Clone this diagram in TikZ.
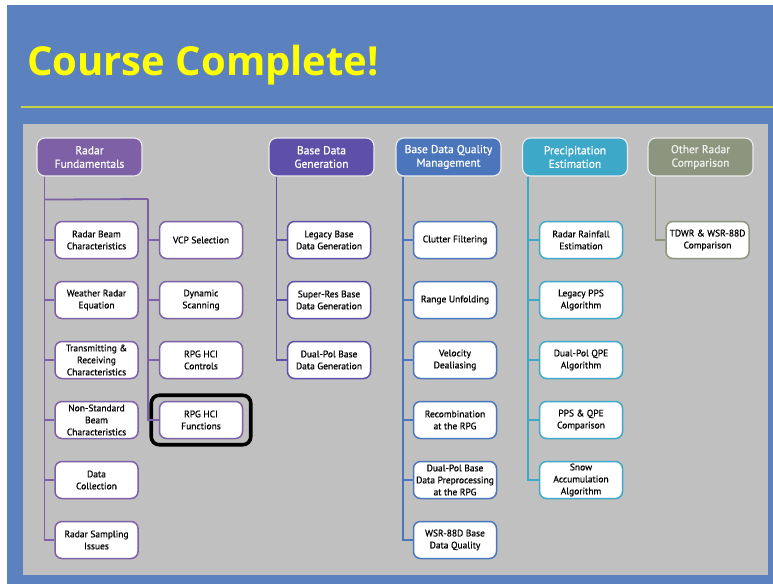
\documentclass[tikz,border=0pt]{standalone}
\usepackage{fontspec}
\setmainfont{PT Sans}[FakeBold=0.6]
\newfontfamily\titlefont{Open Sans}
\usetikzlibrary{fit,calc}
\definecolor{bgblue}{RGB}{91,130,190}
\definecolor{panel}{RGB}{192,192,192}
\definecolor{ttl}{RGB}{255,255,0}
\definecolor{rule}{RGB}{196,210,70}
\definecolor{cRF}{RGB}{126,96,166}
\definecolor{cBDG}{RGB}{94,80,168}
\definecolor{cBDQ}{RGB}{76,118,188}
\definecolor{cPE}{RGB}{62,168,200}
\definecolor{cOR}{RGB}{140,150,126}
\tikzset{
  hdr/.style={rounded corners=8pt, minimum width=105pt, minimum height=38pt, draw=white!85!gray, line width=1.1pt, text=white, align=center, inner sep=1pt, font=\fontsize{11.5}{13.5}\selectfont},
  tbox/.style={rounded corners=7pt, minimum width=83pt, minimum height=37pt, fill=white, line width=1.5pt, align=center, inner sep=1pt, text=black, font=\fontsize{9.5}{12}\selectfont},
  lnk/.style={line width=1.8pt},
}
\begin{document}
\begin{tikzpicture}[x=1pt,y=-1pt]
\useasboundingbox (0,0) rectangle (773,584);
\fill[white] (0,0) rectangle (773,584);
\fill[bgblue] (7,5) rectangle (773,584);
\fill[panel] (23,124) rectangle (768,575);
\draw[rule, line width=1.2pt] (21,107) -- (773,107);
\node[anchor=base west, inner sep=0pt, text=ttl, font=\titlefont\bfseries\fontsize{40}{44}\selectfont] (title) at (27,75) {Course Complete!};

% headers
\node[hdr, fill=cRF] (rf) at (89.5,157) {Radar\\Fundamentals};
\node[hdr, fill=cBDG] (bdg) at (321.5,157) {Base Data\\Generation};
\node[hdr, fill=cBDQ] (bdq) at (448.5,157) {Base Data Quality\\Management};
\node[hdr, fill=cPE] (pe) at (575,157) {Precipitation\\Estimation};
\node[hdr, fill=cOR, text=white!88!gray] (orc) at (700.5,157) {Other Radar\\Comparison};

% column 1
\begin{scope}[every node/.style={tbox, draw=cRF}]
\node (rb) at (96.5,240) {Radar Beam\\Characteristics};
\node (wre) at (96.5,300) {Weather Radar\\Equation};
\node (trc) at (96.5,360) {Transmitting \&\\Receiving\\Characteristics};
\node (nsb) at (96.5,420) {Non-Standard\\Beam\\Characteristics};
\node (dc) at (96.5,480) {Data\\Collection};
\node (rsi) at (96.5,540) {Radar Sampling\\Issues};
\node (vcp) at (201,240) {VCP Selection};
\node (ds) at (201,300) {Dynamic\\Scanning};
\node (rhc) at (201,360) {RPG HCI\\Controls};
\node (rhf) at (201,420) {RPG HCI\\Functions};
\end{scope}
\begin{scope}[every node/.style={tbox, draw=cBDG}]
\node (lb) at (329,240) {Legacy Base\\Data Generation};
\node (sr) at (329,300) {Super-Res Base\\Data Generation};
\node (dpb) at (329,360) {Dual-Pol Base\\Data Generation};
\end{scope}
\begin{scope}[every node/.style={tbox, draw=cBDQ}]
\node (cf) at (455,240) {Clutter Filtering};
\node (ru) at (455,300) {Range Unfolding};
\node (vd) at (455,360) {Velocity\\Dealiasing};
\node (rec) at (455,420) {Recombination\\at the RPG};
\node (dpp) at (455,480) {Dual-Pol Base\\Data Preprocessing\\at the RPG};
\node (wsr) at (455,540) {WSR-88D Base\\Data Quality};
\end{scope}
\begin{scope}[every node/.style={tbox, draw=cPE}]
\node (rre) at (581,240) {Radar Rainfall\\Estimation};
\node (lpps) at (581,300) {Legacy PPS\\Algorithm};
\node (dpq) at (581,360) {Dual-Pol QPE\\Algorithm};
\node (ppsq) at (581,420) {PPS \& QPE\\Comparison};
\node (snow) at (581,480) {Snow\\Accumulation\\Algorithm};
\end{scope}
\node[tbox, draw=cOR] (tdwr) at (707.5,240) {TDWR \& WSR-88D\\Comparison};

% highlight
\node[fit=(rhf), draw=black, line width=3.6pt, rounded corners=8pt, inner xsep=7.5pt, inner ysep=5.5pt] (hl) {};

% connectors column 1
\coordinate (rft) at ([xshift=8pt]rf.south west);
\coordinate (rfj) at ($(rft)+(0,23)$);
\coordinate (rfk) at (148,199);
\foreach \n in {rb,wre,trc,nsb,dc,rsi} \draw[lnk, cRF] (rft) |- (\n.west);
\draw[lnk, cRF] (rfj) -- (rfk);
\foreach \n in {vcp,ds,rhc,rhf} \draw[lnk, cRF] (rfk) |- (\n.west);
% base data generation
\coordinate (bdgt) at ([xshift=8pt]bdg.south west);
\foreach \n in {lb,sr,dpb} \draw[lnk, cBDG] (bdgt) |- (\n.west);
\coordinate (bdqt) at ([xshift=7.5pt]bdq.south west);
\foreach \n in {cf,ru,vd,rec,dpp,wsr} \draw[lnk, cBDQ] (bdqt) |- (\n.west);
\coordinate (pet) at ([xshift=6pt]pe.south west);
\foreach \n in {rre,lpps,dpq,ppsq,snow} \draw[lnk, cPE] (pet) |- (\n.west);
\coordinate (ort) at ([xshift=8pt]orc.south west);
\draw[lnk, cOR] (ort) |- (tdwr.west);
\end{tikzpicture}
\end{document}
